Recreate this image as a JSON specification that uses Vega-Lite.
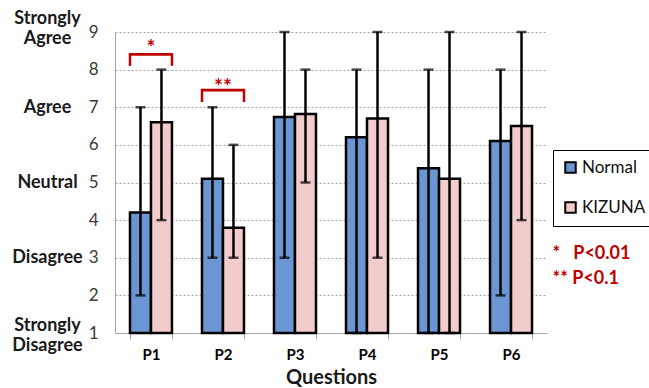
{
  "$schema": "https://vega.github.io/schema/vega-lite/v6.json",
  "width": 432,
  "height": 301,
  "autosize": {"type": "none"},
  "padding": {"left": 115, "top": 32, "right": 102, "bottom": 55},
  "config": {
    "view": {"stroke": null},
    "font": "Lato",
    "axis": {"labelFont": "Lato", "titleFont": "Lato"},
    "legend": {"labelFont": "Lato"}
  },
  "datasets": {
    "scores": [
      {"q": "P1", "group": "Normal", "mean": 4.2, "lo": 2, "hi": 7},
      {"q": "P1", "group": "KIZUNA", "mean": 6.6, "lo": 4, "hi": 8},
      {"q": "P2", "group": "Normal", "mean": 5.1, "lo": 3, "hi": 7},
      {"q": "P2", "group": "KIZUNA", "mean": 3.8, "lo": 3, "hi": 6},
      {"q": "P3", "group": "Normal", "mean": 6.74, "lo": 3, "hi": 9},
      {"q": "P3", "group": "KIZUNA", "mean": 6.82, "lo": 5, "hi": 8},
      {"q": "P4", "group": "Normal", "mean": 6.2, "lo": 1, "hi": 8},
      {"q": "P4", "group": "KIZUNA", "mean": 6.7, "lo": 3, "hi": 9},
      {"q": "P5", "group": "Normal", "mean": 5.38, "lo": 1, "hi": 8},
      {"q": "P5", "group": "KIZUNA", "mean": 5.1, "lo": 1, "hi": 9},
      {"q": "P6", "group": "Normal", "mean": 6.1, "lo": 2, "hi": 8},
      {"q": "P6", "group": "KIZUNA", "mean": 6.5, "lo": 4, "hi": 9}
    ],
    "sig": [
      {"q": "P1", "low": 8.1, "top": 8.44, "topIn": 8.37, "ys": 8.55, "star": "*"},
      {"q": "P2", "low": 7.14, "top": 7.49, "topIn": 7.42, "ys": 7.5, "star": "**"}
    ]
  },
  "resolve": {"scale": {"y": "independent"}},
  "layer": [
    {
      "data": {"values": [{"v": 1}, {"v": 9}]},
      "mark": {"type": "rule", "opacity": 0},
      "encoding": {
        "y": {
          "field": "v", "type": "quantitative",
          "scale": {"domain": [1, 9], "zero": false, "nice": false},
          "axis": {
            "orient": "left", "title": null, "values": [1, 2, 3, 4, 5, 6, 7, 8, 9], "labelFontSize": 17,
            "labelColor": "#3a3a3a", "labelPadding": 17, "ticks": false, "labelOverlap": false,
            "labelBound": false, "labelFlush": false,
            "domainColor": "#a6a6a6", "grid": true, "gridColor": "#a0a0a0", "gridDash": [2, 2]
          }
        }
      }
    },
    {
      "data": {"name": "scores"},
      "encoding": {
        "x": {
          "field": "q", "type": "nominal",
          "scale": {"domain": ["P1", "P2", "P3", "P4", "P5", "P6"], "paddingInner": 0.417, "paddingOuter": 0.208},
          "axis": {
            "title": "Questions", "labelAngle": 0, "labelFontSize": 15, "labelFontWeight": "bold",
            "labelColor": "#000000", "labelPadding": 8, "tickBand": "extent", "tickSize": 6,
            "tickColor": "#a6a6a6", "domainColor": "#a6a6a6", "titleFontSize": 20,
            "titleFontWeight": "bold", "titleColor": "#1a1a1a", "titlePadding": 5
          }
        }
      },
      "layer": [
        {
          "mark": {"type": "bar", "stroke": "#000000", "strokeWidth": 2.5},
          "encoding": {
            "xOffset": {"field": "group", "type": "nominal", "scale": {"domain": ["Normal", "KIZUNA"], "paddingInner": 0, "paddingOuter": 0}},
            "y": {
              "field": "mean", "type": "quantitative",
              "scale": {"domain": [1, 9], "zero": false, "nice": false},
              "axis": null
            },
            "y2": {"datum": 1},
            "fill": {
              "field": "group", "type": "nominal",
              "scale": {"domain": ["Normal", "KIZUNA"], "range": ["#6a97d3", "#f2cccc"]},
              "legend": {
                "title": null, "orient": "none", "legendX": 438, "legendY": 118,
                "strokeColor": "#000000", "fillColor": "#ffffff", "padding": 9, "rowPadding": 21,
                "labelFontSize": 17, "labelColor": "#111111", "symbolType": "square", "symbolSize": 110,
                "symbolStrokeColor": "#000000", "symbolStrokeWidth": 2, "labelOffset": 3
              }
            }
          }
        },
        {
          "mark": {"type": "rule", "color": "#000000", "strokeWidth": 2.5},
          "encoding": {
            "xOffset": {"field": "group", "type": "nominal"},
            "y": {"field": "lo", "type": "quantitative"},
            "y2": {"field": "hi"}
          }
        },
        {
          "mark": {"type": "tick", "color": "#000000", "thickness": 2.5, "size": 10},
          "encoding": {
            "xOffset": {"field": "group", "type": "nominal"},
            "y": {"field": "hi", "type": "quantitative"}
          }
        },
        {
          "mark": {"type": "tick", "color": "#000000", "thickness": 2.5, "size": 10},
          "encoding": {
            "xOffset": {"field": "group", "type": "nominal"},
            "y": {"field": "lo", "type": "quantitative"}
          }
        },
        {
          "data": {"name": "sig"},
          "mark": {"type": "bar", "color": "#c00000"},
          "encoding": {
            "y": {"field": "top", "type": "quantitative"},
            "y2": {"field": "topIn"}
          }
        },
        {
          "data": {"name": "sig"},
          "mark": {"type": "rule", "color": "#c00000", "strokeWidth": 2.5},
          "encoding": {
            "x": {"field": "q", "type": "nominal", "bandPosition": 0},
            "y": {"field": "low", "type": "quantitative"},
            "y2": {"field": "top"}
          }
        },
        {
          "data": {"name": "sig"},
          "mark": {"type": "rule", "color": "#c00000", "strokeWidth": 2.5},
          "encoding": {
            "x": {"field": "q", "type": "nominal", "bandPosition": 1},
            "y": {"field": "low", "type": "quantitative"},
            "y2": {"field": "top"}
          }
        },
        {
          "data": {"name": "sig"},
          "mark": {"type": "text", "color": "#c00000", "fontSize": 21, "fontWeight": "bold", "baseline": "middle"},
          "encoding": {
            "y": {"field": "ys", "type": "quantitative"},
            "text": {"field": "star"}
          }
        }
      ]
    },
    {
      "data": {"values": [{"v": 1}, {"v": 9}]},
      "mark": {"type": "rule", "opacity": 0},
      "encoding": {
        "y": {
          "field": "v", "type": "quantitative",
          "scale": {"domain": [1, 9.5], "range": [301, -18.8125], "zero": false, "nice": false},
          "axis": {
            "orient": "left", "title": null, "values": [1.19, 3, 5, 7, 9.36], "domain": false, "ticks": false,
            "grid": false, "labelPadding": 68, "labelAlign": "center", "labelFontSize": 18, "labelOverlap": false,
            "labelFontWeight": "bold", "labelColor": "#1a1a1a", "labelLineHeight": 20,
            "labelExpr": "datum.value > 9 ? ['Strongly', 'Agree'] : datum.value == 7 ? 'Agree' : datum.value == 5 ? 'Neutral' : datum.value == 3 ? 'Disagree' : ['Strongly', 'Disagree']"
          }
        }
      }
    },
    {
      "data": {"values": [{"v": 1}, {"v": 9}]},
      "mark": {"type": "rule", "opacity": 0},
      "encoding": {
        "y": {
          "field": "v", "type": "quantitative",
          "scale": {"domain": [1, 9], "zero": false, "nice": false},
          "axis": {
            "orient": "right", "title": null, "values": [2.44, 3.1], "domain": false, "ticks": false,
            "grid": false, "labelPadding": 5, "labelAlign": "left", "labelFontSize": 18, "labelOverlap": false,
            "labelFontWeight": "bold", "labelColor": "#c00000",
            "labelExpr": "datum.value > 3 ? '*\u00a0\u00a0\u00a0P<0.01' : '**\u00a0P<0.1'"
          }
        }
      }
    }
  ]
}
